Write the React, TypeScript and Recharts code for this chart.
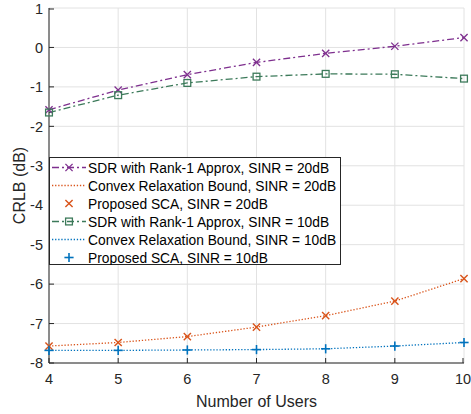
import { CartesianGrid, Legend, Line, LineChart, XAxis, YAxis } from 'recharts';

const users = [4, 5, 6, 7, 8, 9, 10];
const sdr20 = [-1.58, -1.08, -0.69, -0.38, -0.15, 0.03, 0.25];
const bound20 = [-7.57, -7.48, -7.33, -7.09, -6.8, -6.43, -5.86];
const sca20 = [-7.57, -7.48, -7.33, -7.09, -6.8, -6.43, -5.86];
const sdr10 = [-1.65, -1.21, -0.9, -0.74, -0.67, -0.68, -0.79];
const bound10 = [-7.68, -7.68, -7.67, -7.66, -7.64, -7.57, -7.48];
const sca10 = [-7.68, -7.68, -7.67, -7.66, -7.64, -7.57, -7.48];

const xTicks = [4, 5, 6, 7, 8, 9, 10];
const yTicks = [-8, -7, -6, -5, -4, -3, -2, -1, 0, 1];

const FONT = '"Liberation Sans", Arial, Helvetica, sans-serif';
const AXIS = '#262626';

type MarkerKind = 'cross' | 'square' | 'plus' | 'none';

type Series = {
  key: string;
  name: string;
  color: string;
  dash: string | null; // null = no connecting line
  width: number;
  marker: MarkerKind;
};

const SERIES: Series[] = [
  { key: 'sdr20', name: 'SDR with Rank-1 Approx, SINR = 20dB', color: '#7E2F8E', dash: '7 3 2 3', width: 1.3, marker: 'cross' },
  { key: 'bound20', name: 'Convex Relaxation Bound, SINR = 20dB', color: '#D95319', dash: '1.3 1.8', width: 1.3, marker: 'none' },
  { key: 'sca20', name: 'Proposed SCA, SINR = 20dB', color: '#D95319', dash: null, width: 1.4, marker: 'cross' },
  { key: 'sdr10', name: 'SDR with Rank-1 Approx, SINR = 10dB', color: '#3C7A5A', dash: '7 3 2 3', width: 1.3, marker: 'square' },
  { key: 'bound10', name: 'Convex Relaxation Bound, SINR = 10dB', color: '#0072BD', dash: '1.3 1.8', width: 1.3, marker: 'none' },
  { key: 'sca10', name: 'Proposed SCA, SINR = 10dB', color: '#0072BD', dash: null, width: 1.6, marker: 'plus' },
];

const data = users.map((u, i) => ({
  users: u,
  sdr20: sdr20[i],
  bound20: bound20[i],
  sca20: sca20[i],
  sdr10: sdr10[i],
  bound10: bound10[i],
  sca10: sca10[i],
}));

function Marker({ cx, cy, kind, color, width }: { cx: number; cy: number; kind: MarkerKind; color: string; width: number }) {
  if (kind === 'cross') {
    const r = 3.6;
    return (
      <g stroke={color} strokeWidth={width} fill="none">
        <line x1={cx - r} y1={cy - r} x2={cx + r} y2={cy + r} />
        <line x1={cx - r} y1={cy + r} x2={cx + r} y2={cy - r} />
      </g>
    );
  }
  if (kind === 'square') {
    const r = 3.4;
    return <rect x={cx - r} y={cy - r} width={2 * r} height={2 * r} stroke={color} strokeWidth={width} fill="none" />;
  }
  if (kind === 'plus') {
    const r = 4.6;
    return (
      <g stroke={color} strokeWidth={width} fill="none">
        <line x1={cx - r} y1={cy} x2={cx + r} y2={cy} />
        <line x1={cx} y1={cy - r} x2={cx} y2={cy + r} />
      </g>
    );
  }
  return null;
}

// MATLAB-style ticks: short marks pointing into the plot box
const BottomTick = ({ x, y, payload }: any) => (
  <g>
    <line x1={x} x2={x} y1={y} y2={y - 5} stroke={AXIS} />
    <text x={x} y={y + 21} textAnchor="middle" fontSize={14.5} fontFamily={FONT} fill={AXIS}>
      {payload.value}
    </text>
  </g>
);

const LeftTick = ({ x, y, payload }: any) => (
  <g>
    <line x1={x} x2={x + 5} y1={y} y2={y} stroke={AXIS} />
    <text x={x - 6} y={y + 5.2} textAnchor="end" fontSize={14.5} fontFamily={FONT} fill={AXIS}>
      {payload.value}
    </text>
  </g>
);

const TopTick = ({ x, y }: any) => <line x1={x} x2={x} y1={y} y2={y + 5} stroke={AXIS} />;
const RightTick = ({ x, y }: any) => <line x1={x} x2={x - 5} y1={y} y2={y} stroke={AXIS} />;

function LegendBox() {
  const w = 292;
  const h = 108;
  return (
    <svg width={w} height={h} style={{ display: 'block' }}>
      <rect x={0.5} y={0.5} width={w - 1} height={h - 1} fill="#fff" stroke={AXIS} />
      {SERIES.map((s, i) => {
        const cy = 10.5 + i * 18;
        return (
          <g key={s.key}>
            {s.dash && (
              <line x1={3} x2={37} y1={cy} y2={cy} stroke={s.color} strokeWidth={s.width} strokeDasharray={s.dash} />
            )}
            <Marker cx={20} cy={cy} kind={s.marker} color={s.color} width={s.width} />
            <text x={39} y={cy + 5} fontSize={13.8} fontFamily={FONT} fill="#000">
              {s.name}
            </text>
          </g>
        );
      })}
    </svg>
  );
}

export default function App() {
  return (
    <div style={{ position: 'absolute', left: 0, top: 0, width: 471, height: 414, background: '#fff' }}>
      <LineChart width={471} height={414} data={data} margin={{ top: 8, right: 7, bottom: 0, left: 0 }} style={{ fontFamily: FONT }}>
        <CartesianGrid stroke="#e2e2e2" strokeWidth={1} />
        <XAxis
          dataKey="users"
          type="number"
          domain={[4, 10]}
          ticks={xTicks}
          height={51}
          tickSize={0}
          tickMargin={0}
          tickLine={false}
          axisLine={{ stroke: AXIS }}
          tick={<BottomTick />}
          label={({ viewBox }: any) => (
            <text x={viewBox.x + viewBox.width / 2} y={407} textAnchor="middle" fontSize={16} fontFamily={FONT} fill={AXIS}>
              Number of Users
            </text>
          )}
        />
        <XAxis
          xAxisId="top"
          orientation="top"
          dataKey="users"
          type="number"
          domain={[4, 10]}
          ticks={xTicks}
          height={0}
          tickSize={0}
          tickMargin={0}
          tickLine={false}
          axisLine={{ stroke: AXIS }}
          tick={<TopTick />}
        />
        <YAxis
          type="number"
          domain={[-8, 1]}
          ticks={yTicks}
          width={49}
          tickSize={0}
          tickMargin={0}
          tickLine={false}
          axisLine={{ stroke: AXIS }}
          tick={<LeftTick />}
          label={({ viewBox }: any) => {
            const cy = viewBox.y + viewBox.height / 2;
            return (
              <text x={19} y={cy} transform={`rotate(-90 19 ${cy})`} dy="0.36em" textAnchor="middle" fontSize={16} fontFamily={FONT} fill={AXIS}>
                CRLB (dB)
              </text>
            );
          }}
        />
        <YAxis
          yAxisId="right"
          orientation="right"
          type="number"
          domain={[-8, 1]}
          ticks={yTicks}
          width={0}
          tickSize={0}
          tickMargin={0}
          tickLine={false}
          axisLine={{ stroke: AXIS }}
          tick={<RightTick />}
        />
        {SERIES.map((s) => (
          <Line
            key={s.key}
            dataKey={s.key}
            name={s.name}
            type="linear"
            stroke={s.dash ? s.color : 'none'}
            strokeWidth={s.width}
            strokeDasharray={s.dash ?? undefined}
            isAnimationActive={false}
            activeDot={false}
            dot={(p: any) => (
              <Marker key={`${s.key}-${p.index}`} cx={p.cx} cy={p.cy} kind={s.marker} color={s.color} width={s.width} />
            )}
          />
        ))}
        <Legend
          layout="vertical"
          align="center"
          verticalAlign="middle"
          content={() => <LegendBox />}
          wrapperStyle={{ position: 'absolute', left: 49, top: 157, width: 292, height: 108 }}
        />
      </LineChart>
    </div>
  );
}
